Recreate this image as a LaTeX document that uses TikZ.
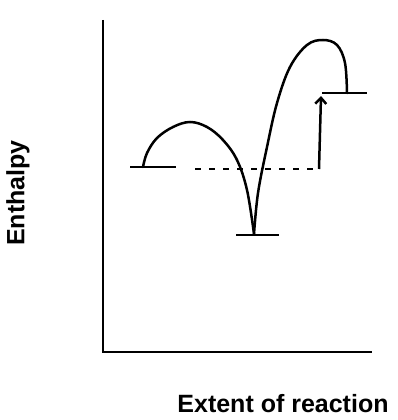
\documentclass[tikz,border=0pt]{standalone}
\usepackage{fontspec}
\setmainfont{Liberation Sans}
\usetikzlibrary{arrows.meta}
\begin{document}
\begin{tikzpicture}[x={(1pt,0)},y={(0,-1pt)},
  curve/.style={line width=2.5pt,line cap=round},
  level/.style={line width=2.6pt},
  lbl/.style={font=\bfseries\fontsize{25}{27}\selectfont,inner sep=0pt}]
\useasboundingbox (0,0) rectangle (398,420);
% axes
\coordinate (top) at (103,20);
\coordinate (origin) at (103,352);
\coordinate (xend) at (372,352);
\draw[line width=2.2pt] (top) -- (origin) -- (xend);
% levels
\coordinate (L1) at (130,167); \coordinate (L2) at (176,167);
\coordinate (M1) at (236,235); \coordinate (M2) at (279,235);
\coordinate (R1) at (322,93);  \coordinate (R2) at (367,93);
\draw[level] (L1) -- (L2);
\draw[level] (M1) -- (M2);
\draw[level] (R1) -- (R2);
% humps
\draw[curve] plot[smooth,tension=0.6] coordinates {(143,167) (147,153) (157,138) (173,127) (190,122) (207,127) (223,140) (237,160) (247,190) (254,234)};
\draw[curve] plot[smooth,tension=0.6] coordinates {(254,234) (258,193) (267,147) (277,103) (290,67) (307,45) (323,40) (337,45) (345,63) (347,93)};
% dashed reference and arrow
\coordinate (D1) at (195,169);
\coordinate (D2) at (319,169);
\coordinate (A2) at (321,96);
\draw[line width=2pt,dash pattern=on 6pt off 8pt] (D1) -- (D2);
\draw[line width=2.5pt,-{Straight Barb[length=6pt,width=11pt]}] (D2) -- (A2);
% labels
\node[lbl,rotate=90] (ylab) at (18,193) {Enthalpy};
\node[lbl] (xlab) at (283,404) {Extent of reaction};
\end{tikzpicture}
\end{document}
